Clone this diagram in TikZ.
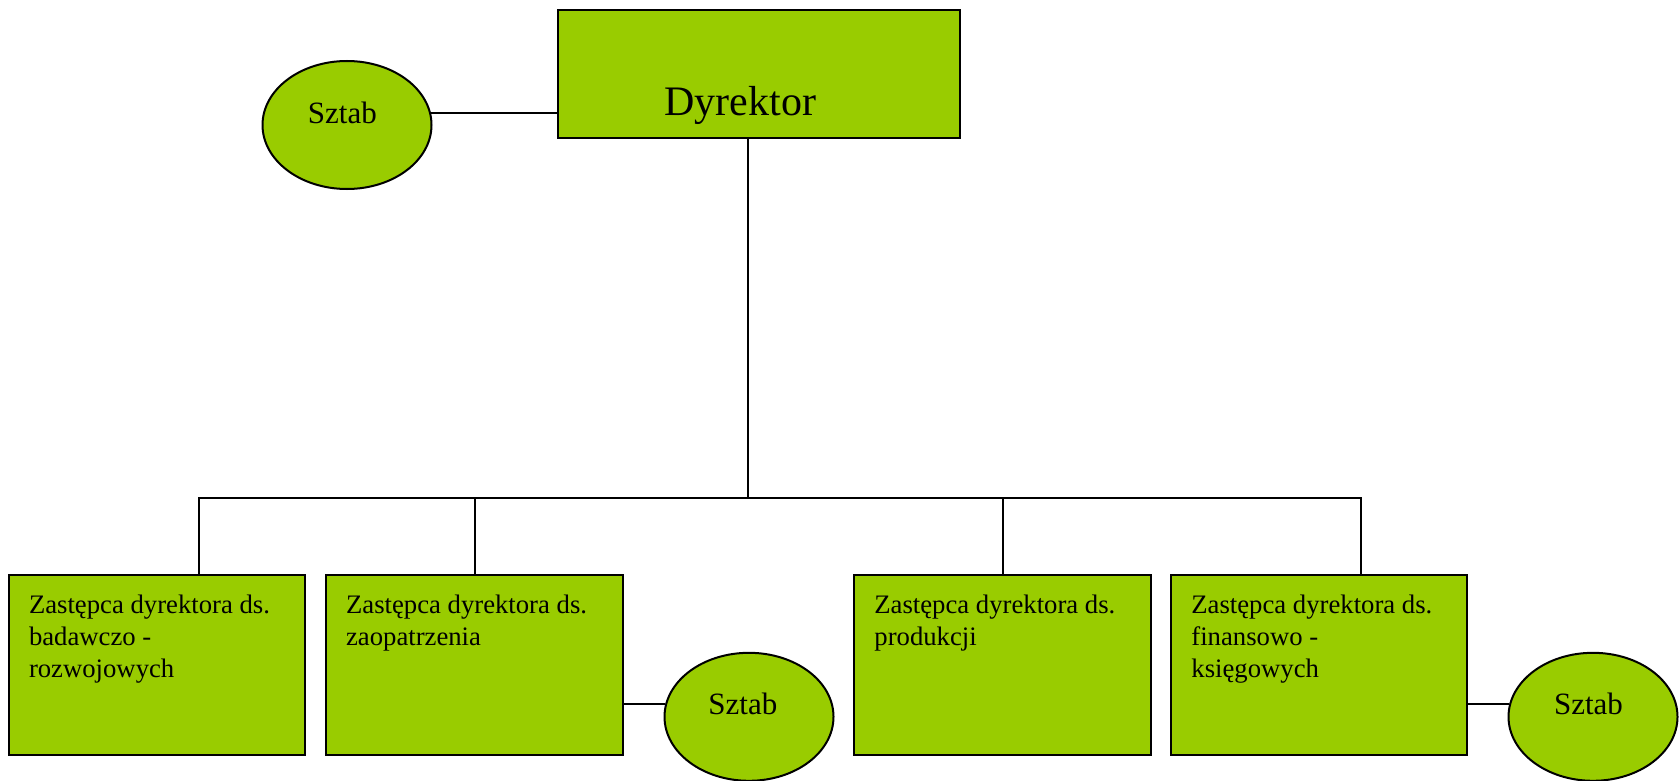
\documentclass[tikz,border=0pt]{standalone}
\usepackage{fontspec}
\setmainfont{Liberation Serif}
\usetikzlibrary{shapes.geometric}
\definecolor{leaf}{HTML}{99CC00}
\begin{document}
\begin{tikzpicture}[x=0.5pt,y=-0.5pt,
  every node/.style={inner sep=0pt},
  unitbox/.style={draw=black,line width=1pt,fill=leaf,rectangle,
    minimum width=148.4pt,minimum height=90pt},
  staffoval/.style={draw=black,line width=1pt,fill=leaf,ellipse,
    minimum width=84.5pt,minimum height=64pt},
  boxtext/.style={anchor=base west,align=left,
    font=\fontsize{13.35}{16}\selectfont},
  ovaltext/.style={font=\fontsize{15.5}{18}\selectfont},
  link/.style={draw=black,line width=1pt}]
\useasboundingbox (0,0) rectangle (1680,781);

% director and his staff
\node[draw=black,line width=1pt,fill=leaf,minimum width=201pt,minimum height=64.2pt]
  (dir) at (759,73.8) {};
\node[anchor=base west,font=\fontsize{21}{25}\selectfont] (dirtxt) at (664,115.7) {Dyrektor};
\node[staffoval] (sz0) at (347,125) {};
\node[ovaltext,anchor=base west] (sz0txt) at (307.5,124) {Sztab};

% deputies (text anchored at the baseline of its last line)
\node[unitbox] (d1) at (157,665.4) {};
\node[unitbox] (d2) at (474.5,665.4) {};
\node[unitbox] (d3) at (1002.8,665.4) {};
\node[unitbox] (d4) at (1318.9,665.4) {};
\node[boxtext] (t1) at (28.6,677) {Zastępca dyrektora ds.\\badawczo -\\rozwojowych};
\node[boxtext] (t2) at (345.7,645) {Zastępca dyrektora ds.\\zaopatrzenia};
\node[boxtext] (t3) at (874,645) {Zastępca dyrektora ds.\\produkcji};
\node[boxtext] (t4) at (1191,677) {Zastępca dyrektora ds.\\finansowo -\\księgowych};

% staff units of deputies
\node[staffoval] (s2) at (749,716.8) {};
\node[staffoval] (s4) at (1593,716.8) {};
\node[ovaltext,anchor=base west] (s2txt) at (708,714.6) {Sztab};
\node[ovaltext,anchor=base west] (s4txt) at (1553.6,714.6) {Sztab};

% connectors
\coordinate (bus) at (748,498);
\coordinate (drop1) at (199,575.4);
\coordinate (drop4) at (1361,575.4);
\draw[link] (dir.south -| bus) -- (bus);
\draw[link] (bus) -| (drop1);
\draw[link] (bus) -| (d2.north);
\draw[link] (bus) -| (d3.north);
\draw[link] (bus) -| (drop4);
\draw[link] (sz0.8) -- (sz0.8 -| dir.west);
\draw[link] (d2.east |- s2.171) -- (s2.171);
\draw[link] (d4.east |- s4.171) -- (s4.171);
\end{tikzpicture}
\end{document}
